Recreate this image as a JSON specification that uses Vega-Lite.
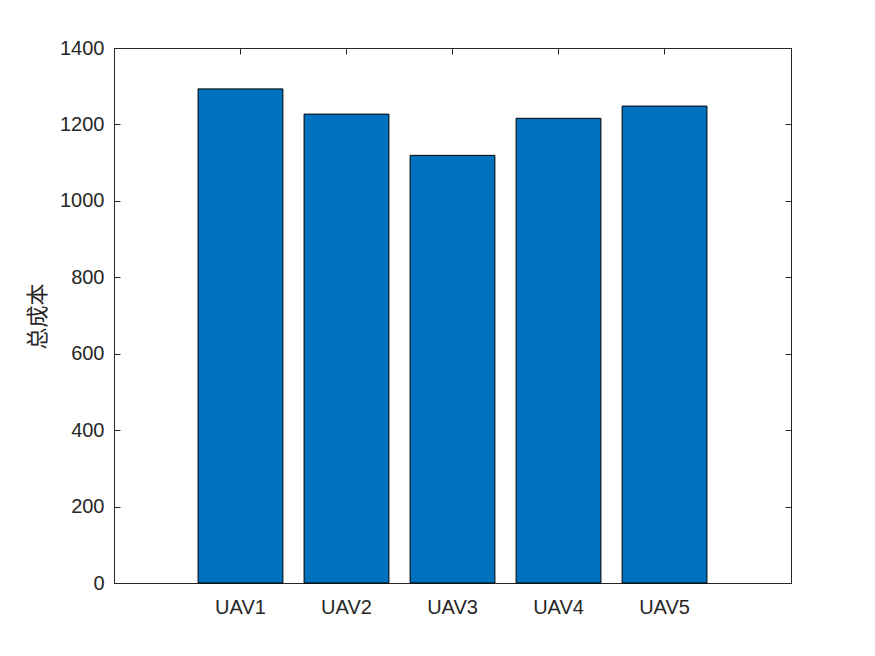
{
  "$schema": "https://vega.github.io/schema/vega-lite/v6.json",
  "autosize": {"type": "none"},
  "padding": {"left": 114, "top": 48, "right": 84, "bottom": 73},
  "width": 677,
  "height": 535,
  "background": "white",
  "data": {"values": [
    {"uav": "UAV1", "cost": 1293},
    {"uav": "UAV2", "cost": 1227},
    {"uav": "UAV3", "cost": 1119},
    {"uav": "UAV4", "cost": 1216},
    {"uav": "UAV5", "cost": 1248}
  ]},
  "config": {
    "view": {"stroke": "#262626", "strokeWidth": 1},
    "axis": {
      "labelFont": "Liberation Sans",
      "labelFontSize": 20,
      "labelColor": "#262626",
      "domainColor": "#262626",
      "tickColor": "#262626",
      "grid": false,
      "tickSize": -6,
      "domain": true
    }
  },
  "layer": [
    {
      "mark": {"type": "bar", "color": "#0072BD", "stroke": "#000000", "strokeWidth": 1},
      "encoding": {
        "x": {
          "field": "uav", "type": "nominal", "sort": null,
          "scale": {"paddingInner": 0.2, "paddingOuter": 0.793},
          "axis": {"orient": "bottom", "title": null, "labelAngle": 0, "labelPadding": 20}
        },
        "y": {
          "field": "cost", "type": "quantitative",
          "scale": {"domain": [0, 1400], "nice": false},
          "axis": {
            "orient": "left", "values": [0, 200, 400, 600, 800, 1000, 1200, 1400], "format": "d",
            "labelPadding": 16, "title": "总成本",
            "titleFont": "Noto Sans CJK SC", "titleFontSize": 22, "titleFontWeight": "normal",
            "titleColor": "#262626", "titleX": -77, "titleY": 268, "titleAngle": -90, "titleBaseline": "middle", "titleAlign": "center"
          }
        }
      }
    },
    {
      "mark": {"type": "bar", "opacity": 0},
      "encoding": {
        "x": {
          "field": "uav", "type": "nominal", "sort": null,
          "axis": {"orient": "top", "title": null, "labels": false}
        },
        "y": {
          "field": "cost", "type": "quantitative",
          "axis": {"orient": "right", "values": [0, 200, 400, 600, 800, 1000, 1200, 1400], "labels": false, "title": null}
        }
      }
    }
  ],
  "resolve": {"axis": {"x": "independent", "y": "independent"}}
}
